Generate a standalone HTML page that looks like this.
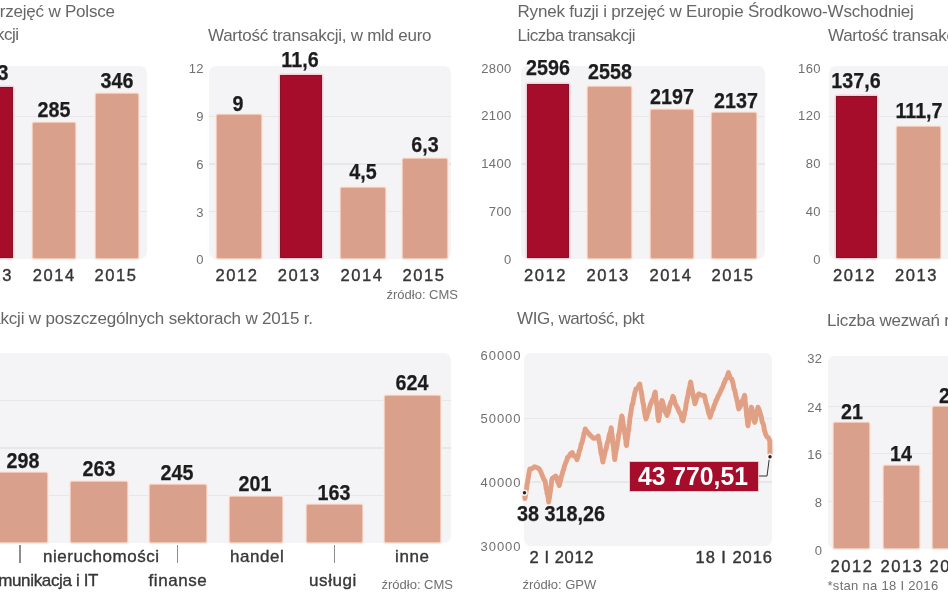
<!DOCTYPE html>
<html><head><meta charset="utf-8"><style>
html,body{margin:0;padding:0;background:#fff;}
body{width:948px;height:593px;position:relative;overflow:hidden;font-family:"Liberation Sans", sans-serif;}
.t{position:absolute;white-space:nowrap;}
.r{position:absolute;}
#w{position:absolute;left:0;top:0;width:948px;height:593px;filter:blur(0.35px);}
</style></head><body><div id="w">
<div class="r" style="left:-20.00px;top:66.00px;width:167.00px;height:192.50px;background:#f4f4f6;border-radius:7px;"></div>
<div class="r" style="left:-20.00px;top:115.50px;width:167.00px;height:1.50px;background:#e7e7e9;"></div>
<div class="r" style="left:-20.00px;top:163.00px;width:167.00px;height:1.50px;background:#e7e7e9;"></div>
<div class="r" style="left:-20.00px;top:210.50px;width:167.00px;height:1.50px;background:#e7e7e9;"></div>
<div class="r" style="left:-30.00px;top:87.00px;width:42.50px;height:171.00px;background:#a60d2b;box-shadow:inset 0 0 0 1px #8c1025,0 0 0 1.5px #f6d0d8;border-radius:1px;"></div>
<div class="r" style="left:33.00px;top:123.00px;width:41.50px;height:135.00px;background:#d9a18b;box-shadow:0 0 0 1px #f1c9b6,0 0 0 2px #fbeae3;border-radius:1px;"></div>
<div class="r" style="left:95.50px;top:93.50px;width:42.00px;height:164.50px;background:#d9a18b;box-shadow:0 0 0 1px #f1c9b6,0 0 0 2px #fbeae3;border-radius:1px;"></div>
<div class="t" style="top:2.94px;font-size:17px;line-height:17px;font-weight:400;color:#666;letter-spacing:-0.2px;right:833.20px;text-align:right;">Rynek fuzji i przejęć w Polsce</div>
<div class="t" style="top:26.43px;font-size:17px;line-height:17px;font-weight:400;color:#666;letter-spacing:-0.48px;right:929.48px;text-align:right;">Liczba transakcji</div>
<div class="t" style="top:61.51px;font-size:22px;line-height:22px;font-weight:700;color:#1c1c1c;-webkit-text-stroke:0.25px #1c1c1c;left:-308.00px;width:600px;text-align:center;transform:scaleX(0.895);transform-origin:center 50%;">363</div>
<div class="t" style="top:99.31px;font-size:22px;line-height:22px;font-weight:700;color:#1c1c1c;-webkit-text-stroke:0.25px #1c1c1c;left:-246.00px;width:600px;text-align:center;transform:scaleX(0.895);transform-origin:center 50%;">285</div>
<div class="t" style="top:70.01px;font-size:22px;line-height:22px;font-weight:700;color:#1c1c1c;-webkit-text-stroke:0.25px #1c1c1c;left:-183.00px;width:600px;text-align:center;transform:scaleX(0.895);transform-origin:center 50%;">346</div>
<div class="t" style="top:267.06px;font-size:16.5px;line-height:16.5px;font-weight:400;color:#363636;-webkit-text-stroke:0.4px #363636;letter-spacing:1.6px;left:-30.10px;">2013</div>
<div class="t" style="top:267.06px;font-size:16.5px;line-height:16.5px;font-weight:400;color:#363636;-webkit-text-stroke:0.4px #363636;letter-spacing:1.6px;left:32.70px;">2014</div>
<div class="t" style="top:267.06px;font-size:16.5px;line-height:16.5px;font-weight:400;color:#363636;-webkit-text-stroke:0.4px #363636;letter-spacing:1.6px;left:94.40px;">2015</div>
<div class="r" style="left:209.00px;top:66.00px;width:242.00px;height:192.50px;background:#f4f4f6;border-radius:7px;"></div>
<div class="r" style="left:209.00px;top:115.50px;width:242.00px;height:1.50px;background:#e7e7e9;"></div>
<div class="r" style="left:209.00px;top:163.00px;width:242.00px;height:1.50px;background:#e7e7e9;"></div>
<div class="r" style="left:209.00px;top:210.50px;width:242.00px;height:1.50px;background:#e7e7e9;"></div>
<div class="t" style="top:26.84px;font-size:17px;line-height:17px;font-weight:400;color:#666;letter-spacing:-0.25px;left:208.00px;">Wartość transakcji, w mld euro</div>
<div class="t" style="top:61.61px;font-size:13px;line-height:13px;font-weight:400;color:#707070;letter-spacing:0.4px;right:744.10px;text-align:right;">12</div>
<div class="t" style="top:109.61px;font-size:13px;line-height:13px;font-weight:400;color:#707070;letter-spacing:0.4px;right:744.10px;text-align:right;">9</div>
<div class="t" style="top:157.62px;font-size:13px;line-height:13px;font-weight:400;color:#707070;letter-spacing:0.4px;right:744.10px;text-align:right;">6</div>
<div class="t" style="top:205.62px;font-size:13px;line-height:13px;font-weight:400;color:#707070;letter-spacing:0.4px;right:744.10px;text-align:right;">3</div>
<div class="t" style="top:252.62px;font-size:13px;line-height:13px;font-weight:400;color:#707070;letter-spacing:0.4px;right:744.10px;text-align:right;">0</div>
<div class="r" style="left:216.50px;top:115.00px;width:44.50px;height:143.00px;background:#d9a18b;box-shadow:0 0 0 1px #f1c9b6,0 0 0 2px #fbeae3;border-radius:1px;"></div>
<div class="t" style="top:92.81px;font-size:22px;line-height:22px;font-weight:700;color:#1c1c1c;-webkit-text-stroke:0.25px #1c1c1c;left:-62.25px;width:600px;text-align:center;transform:scaleX(0.895);transform-origin:center 50%;">9</div>
<div class="t" style="top:267.06px;font-size:16.5px;line-height:16.5px;font-weight:400;color:#363636;-webkit-text-stroke:0.4px #363636;letter-spacing:1.6px;left:215.40px;">2012</div>
<div class="r" style="left:279.50px;top:74.50px;width:42.50px;height:183.50px;background:#a60d2b;box-shadow:inset 0 0 0 1px #8c1025,0 0 0 1.5px #f6d0d8;border-radius:1px;"></div>
<div class="t" style="top:49.31px;font-size:22px;line-height:22px;font-weight:700;color:#1c1c1c;-webkit-text-stroke:0.25px #1c1c1c;left:-0.25px;width:600px;text-align:center;transform:scaleX(0.895);transform-origin:center 50%;">11,6</div>
<div class="t" style="top:267.06px;font-size:16.5px;line-height:16.5px;font-weight:400;color:#363636;-webkit-text-stroke:0.4px #363636;letter-spacing:1.6px;left:277.70px;">2013</div>
<div class="r" style="left:341.00px;top:187.50px;width:43.50px;height:70.50px;background:#d9a18b;box-shadow:0 0 0 1px #f1c9b6,0 0 0 2px #fbeae3;border-radius:1px;"></div>
<div class="t" style="top:161.21px;font-size:22px;line-height:22px;font-weight:700;color:#1c1c1c;-webkit-text-stroke:0.25px #1c1c1c;left:62.75px;width:600px;text-align:center;transform:scaleX(0.895);transform-origin:center 50%;">4,5</div>
<div class="t" style="top:267.06px;font-size:16.5px;line-height:16.5px;font-weight:400;color:#363636;-webkit-text-stroke:0.4px #363636;letter-spacing:1.6px;left:340.40px;">2014</div>
<div class="r" style="left:402.50px;top:158.50px;width:44.50px;height:99.50px;background:#d9a18b;box-shadow:0 0 0 1px #f1c9b6,0 0 0 2px #fbeae3;border-radius:1px;"></div>
<div class="t" style="top:133.51px;font-size:22px;line-height:22px;font-weight:700;color:#1c1c1c;-webkit-text-stroke:0.25px #1c1c1c;left:124.75px;width:600px;text-align:center;transform:scaleX(0.895);transform-origin:center 50%;">6,3</div>
<div class="t" style="top:267.06px;font-size:16.5px;line-height:16.5px;font-weight:400;color:#363636;-webkit-text-stroke:0.4px #363636;letter-spacing:1.6px;left:402.40px;">2015</div>
<div class="t" style="top:288.31px;font-size:13px;line-height:13px;font-weight:400;color:#707070;right:490.00px;text-align:right;">źródło: CMS</div>
<div class="r" style="left:521.00px;top:66.00px;width:244.00px;height:192.50px;background:#f4f4f6;border-radius:7px;"></div>
<div class="r" style="left:521.00px;top:115.50px;width:244.00px;height:1.50px;background:#e7e7e9;"></div>
<div class="r" style="left:521.00px;top:163.00px;width:244.00px;height:1.50px;background:#e7e7e9;"></div>
<div class="r" style="left:521.00px;top:210.50px;width:244.00px;height:1.50px;background:#e7e7e9;"></div>
<div class="t" style="top:3.13px;font-size:17px;line-height:17px;font-weight:400;color:#666;letter-spacing:-0.18px;left:517.50px;">Rynek fuzji i przejęć w Europie Środkowo-Wschodniej</div>
<div class="t" style="top:26.84px;font-size:17px;line-height:17px;font-weight:400;color:#666;letter-spacing:-0.48px;left:517.50px;">Liczba transakcji</div>
<div class="t" style="top:61.61px;font-size:13px;line-height:13px;font-weight:400;color:#707070;letter-spacing:0.4px;right:436.30px;text-align:right;">2800</div>
<div class="t" style="top:109.11px;font-size:13px;line-height:13px;font-weight:400;color:#707070;letter-spacing:0.4px;right:436.30px;text-align:right;">2100</div>
<div class="t" style="top:157.12px;font-size:13px;line-height:13px;font-weight:400;color:#707070;letter-spacing:0.4px;right:436.30px;text-align:right;">1400</div>
<div class="t" style="top:204.62px;font-size:13px;line-height:13px;font-weight:400;color:#707070;letter-spacing:0.4px;right:436.30px;text-align:right;">700</div>
<div class="t" style="top:252.62px;font-size:13px;line-height:13px;font-weight:400;color:#707070;letter-spacing:0.4px;right:436.30px;text-align:right;">0</div>
<div class="r" style="left:527.00px;top:83.50px;width:41.50px;height:174.50px;background:#a60d2b;box-shadow:inset 0 0 0 1px #8c1025,0 0 0 1.5px #f6d0d8;border-radius:1px;"></div>
<div class="t" style="top:57.01px;font-size:22px;line-height:22px;font-weight:700;color:#1c1c1c;-webkit-text-stroke:0.25px #1c1c1c;left:247.75px;width:600px;text-align:center;transform:scaleX(0.895);transform-origin:center 50%;">2596</div>
<div class="t" style="top:267.06px;font-size:16.5px;line-height:16.5px;font-weight:400;color:#363636;-webkit-text-stroke:0.4px #363636;letter-spacing:1.6px;left:523.90px;">2012</div>
<div class="r" style="left:588.00px;top:86.50px;width:43.00px;height:171.50px;background:#d9a18b;box-shadow:0 0 0 1px #f1c9b6,0 0 0 2px #fbeae3;border-radius:1px;"></div>
<div class="t" style="top:60.71px;font-size:22px;line-height:22px;font-weight:700;color:#1c1c1c;-webkit-text-stroke:0.25px #1c1c1c;left:309.50px;width:600px;text-align:center;transform:scaleX(0.895);transform-origin:center 50%;">2558</div>
<div class="t" style="top:267.06px;font-size:16.5px;line-height:16.5px;font-weight:400;color:#363636;-webkit-text-stroke:0.4px #363636;letter-spacing:1.6px;left:586.60px;">2013</div>
<div class="r" style="left:650.50px;top:110.00px;width:42.50px;height:148.00px;background:#d9a18b;box-shadow:0 0 0 1px #f1c9b6,0 0 0 2px #fbeae3;border-radius:1px;"></div>
<div class="t" style="top:86.01px;font-size:22px;line-height:22px;font-weight:700;color:#1c1c1c;-webkit-text-stroke:0.25px #1c1c1c;left:371.75px;width:600px;text-align:center;transform:scaleX(0.895);transform-origin:center 50%;">2197</div>
<div class="t" style="top:267.06px;font-size:16.5px;line-height:16.5px;font-weight:400;color:#363636;-webkit-text-stroke:0.4px #363636;letter-spacing:1.6px;left:649.40px;">2014</div>
<div class="r" style="left:712.00px;top:112.50px;width:44.00px;height:145.50px;background:#d9a18b;box-shadow:0 0 0 1px #f1c9b6,0 0 0 2px #fbeae3;border-radius:1px;"></div>
<div class="t" style="top:89.81px;font-size:22px;line-height:22px;font-weight:700;color:#1c1c1c;-webkit-text-stroke:0.25px #1c1c1c;left:435.50px;width:600px;text-align:center;transform:scaleX(0.895);transform-origin:center 50%;">2137</div>
<div class="t" style="top:267.06px;font-size:16.5px;line-height:16.5px;font-weight:400;color:#363636;-webkit-text-stroke:0.4px #363636;letter-spacing:1.6px;left:711.40px;">2015</div>
<div class="r" style="left:829.00px;top:66.00px;width:139.00px;height:192.50px;background:#f4f4f6;border-radius:7px;"></div>
<div class="r" style="left:829.00px;top:115.50px;width:139.00px;height:1.50px;background:#e7e7e9;"></div>
<div class="r" style="left:829.00px;top:163.00px;width:139.00px;height:1.50px;background:#e7e7e9;"></div>
<div class="r" style="left:829.00px;top:210.50px;width:139.00px;height:1.50px;background:#e7e7e9;"></div>
<div class="t" style="top:26.84px;font-size:17px;line-height:17px;font-weight:400;color:#666;letter-spacing:-0.25px;left:828.00px;">Wartość transakcji, w mld euro</div>
<div class="t" style="top:61.61px;font-size:13px;line-height:13px;font-weight:400;color:#707070;letter-spacing:0.4px;right:127.10px;text-align:right;">160</div>
<div class="t" style="top:109.11px;font-size:13px;line-height:13px;font-weight:400;color:#707070;letter-spacing:0.4px;right:127.10px;text-align:right;">120</div>
<div class="t" style="top:157.12px;font-size:13px;line-height:13px;font-weight:400;color:#707070;letter-spacing:0.4px;right:127.10px;text-align:right;">80</div>
<div class="t" style="top:204.62px;font-size:13px;line-height:13px;font-weight:400;color:#707070;letter-spacing:0.4px;right:127.10px;text-align:right;">40</div>
<div class="t" style="top:252.62px;font-size:13px;line-height:13px;font-weight:400;color:#707070;letter-spacing:0.4px;right:127.10px;text-align:right;">0</div>
<div class="r" style="left:835.50px;top:96.00px;width:41.00px;height:162.00px;background:#a60d2b;box-shadow:inset 0 0 0 1px #8c1025,0 0 0 1.5px #f6d0d8;border-radius:1px;"></div>
<div class="t" style="top:70.21px;font-size:22px;line-height:22px;font-weight:700;color:#1c1c1c;-webkit-text-stroke:0.25px #1c1c1c;left:556.00px;width:600px;text-align:center;transform:scaleX(0.895);transform-origin:center 50%;">137,6</div>
<div class="t" style="top:267.06px;font-size:16.5px;line-height:16.5px;font-weight:400;color:#363636;-webkit-text-stroke:0.4px #363636;letter-spacing:1.6px;left:832.90px;">2012</div>
<div class="r" style="left:897.00px;top:127.00px;width:43.00px;height:131.00px;background:#d9a18b;box-shadow:0 0 0 1px #f1c9b6,0 0 0 2px #fbeae3;border-radius:1px;"></div>
<div class="t" style="top:100.01px;font-size:22px;line-height:22px;font-weight:700;color:#1c1c1c;-webkit-text-stroke:0.25px #1c1c1c;left:618.50px;width:600px;text-align:center;transform:scaleX(0.895);transform-origin:center 50%;">111,7</div>
<div class="t" style="top:267.06px;font-size:16.5px;line-height:16.5px;font-weight:400;color:#363636;-webkit-text-stroke:0.4px #363636;letter-spacing:1.6px;left:894.90px;">2013</div>
<div class="r" style="left:959.00px;top:170.00px;width:43.00px;height:88.00px;background:#d9a18b;box-shadow:0 0 0 1px #f1c9b6,0 0 0 2px #fbeae3;border-radius:1px;"></div>
<div class="t" style="top:267.06px;font-size:16.5px;line-height:16.5px;font-weight:400;color:#363636;-webkit-text-stroke:0.4px #363636;letter-spacing:1.6px;left:957.20px;">2014</div>
<div class="r" style="left:-20.00px;top:352.50px;width:471.00px;height:190.00px;background:#f4f4f6;border-radius:7px;"></div>
<div class="r" style="left:-20.00px;top:399.50px;width:471.00px;height:1.50px;background:#e7e7e9;"></div>
<div class="r" style="left:-20.00px;top:447.00px;width:471.00px;height:1.50px;background:#e7e7e9;"></div>
<div class="r" style="left:-20.00px;top:494.50px;width:471.00px;height:1.50px;background:#e7e7e9;"></div>
<div class="t" style="top:309.63px;font-size:17px;line-height:17px;font-weight:400;color:#666;letter-spacing:-0.17px;right:635.17px;text-align:right;">Liczba transakcji w poszczególnych sektorach w 2015 r.</div>
<div class="r" style="left:-8.00px;top:472.50px;width:55.00px;height:69.00px;background:#d9a18b;box-shadow:0 0 0 1px #f1c9b6,0 0 0 2px #fbeae3;border-radius:1px;"></div>
<div class="t" style="top:450.01px;font-size:22px;line-height:22px;font-weight:700;color:#1c1c1c;-webkit-text-stroke:0.25px #1c1c1c;left:-277.00px;width:600px;text-align:center;transform:scaleX(0.895);transform-origin:center 50%;">298</div>
<div class="t" style="top:571.93px;font-size:17px;line-height:17px;font-weight:400;color:#363636;-webkit-text-stroke:0.35px #363636;letter-spacing:-0.35px;right:849.85px;text-align:right;">telekomunikacja i IT</div>
<div class="r" style="left:19.30px;top:544.50px;width:1.40px;height:18.50px;background:#8d8d8d;"></div>
<div class="r" style="left:71.00px;top:481.50px;width:55.50px;height:60.00px;background:#d9a18b;box-shadow:0 0 0 1px #f1c9b6,0 0 0 2px #fbeae3;border-radius:1px;"></div>
<div class="t" style="top:458.31px;font-size:22px;line-height:22px;font-weight:700;color:#1c1c1c;-webkit-text-stroke:0.25px #1c1c1c;left:-201.25px;width:600px;text-align:center;transform:scaleX(0.895);transform-origin:center 50%;">263</div>
<div class="t" style="top:548.43px;font-size:17px;line-height:17px;font-weight:400;color:#363636;-webkit-text-stroke:0.35px #363636;letter-spacing:0.55px;left:-198.72px;width:600px;text-align:center;">nieruchomości</div>
<div class="r" style="left:150.00px;top:485.00px;width:55.50px;height:56.50px;background:#d9a18b;box-shadow:0 0 0 1px #f1c9b6,0 0 0 2px #fbeae3;border-radius:1px;"></div>
<div class="t" style="top:462.01px;font-size:22px;line-height:22px;font-weight:700;color:#1c1c1c;-webkit-text-stroke:0.25px #1c1c1c;left:-123.25px;width:600px;text-align:center;transform:scaleX(0.895);transform-origin:center 50%;">245</div>
<div class="t" style="top:571.93px;font-size:17px;line-height:17px;font-weight:400;color:#363636;-webkit-text-stroke:0.35px #363636;letter-spacing:0.55px;left:-122.12px;width:600px;text-align:center;">finanse</div>
<div class="r" style="left:177.05px;top:544.50px;width:1.40px;height:18.50px;background:#8d8d8d;"></div>
<div class="r" style="left:229.50px;top:497.00px;width:52.50px;height:44.50px;background:#d9a18b;box-shadow:0 0 0 1px #f1c9b6,0 0 0 2px #fbeae3;border-radius:1px;"></div>
<div class="t" style="top:472.81px;font-size:22px;line-height:22px;font-weight:700;color:#1c1c1c;-webkit-text-stroke:0.25px #1c1c1c;left:-45.25px;width:600px;text-align:center;transform:scaleX(0.895);transform-origin:center 50%;">201</div>
<div class="t" style="top:548.43px;font-size:17px;line-height:17px;font-weight:400;color:#363636;-webkit-text-stroke:0.35px #363636;letter-spacing:0.55px;left:-42.73px;width:600px;text-align:center;">handel</div>
<div class="r" style="left:306.50px;top:505.00px;width:55.50px;height:36.50px;background:#d9a18b;box-shadow:0 0 0 1px #f1c9b6,0 0 0 2px #fbeae3;border-radius:1px;"></div>
<div class="t" style="top:482.01px;font-size:22px;line-height:22px;font-weight:700;color:#1c1c1c;-webkit-text-stroke:0.25px #1c1c1c;left:34.25px;width:600px;text-align:center;transform:scaleX(0.895);transform-origin:center 50%;">163</div>
<div class="t" style="top:571.93px;font-size:17px;line-height:17px;font-weight:400;color:#363636;-webkit-text-stroke:0.35px #363636;letter-spacing:0.55px;left:32.97px;width:600px;text-align:center;">usługi</div>
<div class="r" style="left:333.55px;top:544.50px;width:1.40px;height:18.50px;background:#8d8d8d;"></div>
<div class="r" style="left:384.50px;top:396.00px;width:55.50px;height:145.50px;background:#d9a18b;box-shadow:0 0 0 1px #f1c9b6,0 0 0 2px #fbeae3;border-radius:1px;"></div>
<div class="t" style="top:372.31px;font-size:22px;line-height:22px;font-weight:700;color:#1c1c1c;-webkit-text-stroke:0.25px #1c1c1c;left:112.25px;width:600px;text-align:center;transform:scaleX(0.895);transform-origin:center 50%;">624</div>
<div class="t" style="top:548.43px;font-size:17px;line-height:17px;font-weight:400;color:#363636;-webkit-text-stroke:0.35px #363636;letter-spacing:0.55px;left:112.28px;width:600px;text-align:center;">inne</div>
<div class="t" style="top:578.31px;font-size:13px;line-height:13px;font-weight:400;color:#707070;right:495.00px;text-align:right;">źródło: CMS</div>
<div class="r" style="left:523.50px;top:353.00px;width:248.50px;height:192.50px;background:#f4f4f6;border-radius:7px;"></div>
<div class="r" style="left:523.50px;top:417.50px;width:248.50px;height:1.50px;background:#e7e7e9;"></div>
<div class="r" style="left:523.50px;top:481.00px;width:248.50px;height:1.50px;background:#e7e7e9;"></div>
<div class="t" style="top:309.63px;font-size:17px;line-height:17px;font-weight:400;color:#666;letter-spacing:-0.41px;left:517.00px;">WIG, wartość, pkt</div>
<div class="t" style="top:348.81px;font-size:13px;line-height:13px;font-weight:400;color:#707070;letter-spacing:0.95px;right:426.55px;text-align:right;">60000</div>
<div class="t" style="top:412.12px;font-size:13px;line-height:13px;font-weight:400;color:#707070;letter-spacing:0.95px;right:426.55px;text-align:right;">50000</div>
<div class="t" style="top:475.62px;font-size:13px;line-height:13px;font-weight:400;color:#707070;letter-spacing:0.95px;right:426.55px;text-align:right;">40000</div>
<div class="t" style="top:539.62px;font-size:13px;line-height:13px;font-weight:400;color:#707070;letter-spacing:0.95px;right:426.55px;text-align:right;">30000</div>
<svg class="r" style="left:0;top:0" width="948" height="593" viewBox="0 0 948 593">
<path d="M524.6,492.5 L524.8,495.0 L525.0,498.5 L525.4,495.3 L525.7,494.4 L526.1,490.6 L526.5,489.5 L526.8,486.8 L527.2,483.7 L527.6,482.6 L528.0,479.1 L528.3,477.9 L528.7,474.7 L529.1,472.5 L529.4,471.1 L529.8,469.0 L532.1,468.7 L534.5,466.7 L538.0,468.0 L539.2,469.0 L540.4,471.1 L541.6,473.8 L542.7,476.5 L543.9,479.6 L545.0,480.8 L545.4,483.4 L545.8,485.2 L546.2,489.1 L546.6,489.0 L547.1,493.5 L547.5,494.4 L547.9,496.4 L548.3,498.7 L548.7,502.0 L549.1,499.2 L549.4,498.1 L549.8,494.1 L550.1,492.8 L550.5,490.6 L550.8,487.6 L551.2,485.7 L551.5,482.1 L551.9,479.7 L552.2,478.5 L555.7,476.0 L556.6,477.6 L557.5,481.3 L558.4,483.0 L559.3,485.6 L559.9,482.8 L560.5,481.1 L561.0,478.4 L561.6,475.6 L562.2,474.5 L562.8,471.4 L563.6,469.6 L564.4,466.0 L565.1,464.5 L565.9,462.1 L566.7,460.6 L567.5,457.3 L569.1,456.3 L570.6,453.5 L572.2,452.5 L573.8,456.1 L575.4,456.2 L577.0,459.6 L577.7,457.0 L578.4,455.5 L579.1,451.6 L579.8,450.1 L580.5,447.8 L581.1,444.3 L581.7,443.5 L582.3,441.4 L582.9,438.6 L583.4,437.0 L584.0,433.2 L584.6,431.9 L585.2,429.0 L587.0,431.6 L588.8,433.7 L590.4,435.5 L591.9,436.7 L593.5,438.4 L595.9,438.1 L598.2,436.0 L598.6,439.3 L599.0,440.3 L599.4,442.9 L599.8,443.5 L600.2,447.4 L600.5,449.4 L600.9,452.4 L601.3,454.2 L601.7,454.9 L602.1,457.4 L602.5,460.3 L602.9,462.0 L603.5,458.5 L604.0,457.3 L604.6,454.3 L605.1,451.9 L605.7,449.5 L606.2,449.0 L606.8,445.1 L607.3,443.1 L607.9,441.2 L608.4,440.2 L609.0,435.8 L609.5,434.5 L610.1,432.5 L610.6,431.1 L611.2,427.8 L611.5,430.9 L611.7,433.3 L612.0,434.0 L612.2,436.7 L612.5,438.8 L612.7,442.4 L613.0,444.9 L613.2,445.1 L613.5,447.4 L613.7,449.8 L614.0,452.1 L614.2,455.0 L614.5,457.6 L614.7,459.6 L615.1,456.8 L615.4,454.0 L615.8,452.8 L616.1,450.5 L616.5,448.9 L616.8,447.7 L617.2,444.8 L617.5,442.2 L617.9,440.3 L618.2,438.3 L618.6,434.5 L619.0,434.5 L619.3,432.0 L619.7,430.1 L620.0,427.7 L620.4,424.4 L620.7,422.3 L621.1,419.3 L621.4,418.5 L621.8,416.0 L622.2,417.1 L622.5,419.4 L622.9,422.1 L623.2,424.2 L623.6,426.9 L624.0,428.5 L624.3,430.6 L624.7,433.2 L625.1,435.4 L625.4,438.3 L625.8,439.7 L626.1,444.2 L626.5,445.5 L626.8,443.6 L627.1,440.1 L627.4,438.2 L627.7,436.2 L628.0,434.1 L628.3,431.2 L628.6,430.9 L628.9,429.0 L629.1,425.4 L629.4,423.3 L629.7,420.0 L630.0,417.8 L630.3,416.2 L630.6,413.8 L630.9,413.1 L631.2,410.0 L631.7,406.8 L632.2,404.1 L632.8,404.1 L633.3,400.7 L633.8,397.4 L634.3,396.0 L634.9,392.4 L635.4,391.3 L635.9,388.9 L637.8,387.7 L639.8,384.0 L640.2,387.1 L640.6,388.9 L640.9,389.9 L641.3,392.4 L641.7,394.1 L642.1,397.8 L642.5,399.4 L642.8,402.2 L643.2,403.2 L643.6,405.2 L644.0,408.9 L644.4,411.5 L644.8,413.4 L645.1,415.4 L645.5,417.6 L645.9,419.0 L646.7,417.4 L647.5,413.8 L648.2,412.3 L649.0,409.6 L649.8,406.5 L650.5,404.3 L651.3,402.7 L652.1,400.4 L652.9,399.3 L653.7,397.7 L654.4,394.1 L655.2,392.0 L655.5,395.3 L655.7,397.7 L656.0,399.8 L656.2,400.5 L656.5,402.3 L656.7,404.5 L657.0,406.7 L657.2,408.9 L657.5,412.2 L657.7,415.1 L658.0,417.2 L658.2,418.4 L658.5,420.7 L658.9,418.9 L659.3,417.0 L659.6,412.9 L660.0,412.1 L660.4,410.5 L660.8,408.0 L661.1,405.6 L661.5,402.7 L661.9,400.5 L662.6,401.8 L663.4,405.6 L664.1,406.5 L664.8,409.9 L665.5,412.5 L666.3,413.2 L667.0,415.6 L667.7,413.2 L668.3,412.5 L669.0,409.8 L669.6,406.2 L670.3,403.9 L670.9,401.8 L671.6,401.6 L672.2,399.2 L672.9,396.3 L673.7,397.6 L674.6,401.5 L675.4,404.1 L676.3,405.4 L677.1,407.2 L678.1,409.1 L679.1,411.8 L680.0,413.0 L681.0,414.9 L682.0,419.7 L683.0,420.7 L683.4,418.8 L683.9,416.2 L684.3,415.0 L684.8,411.4 L685.2,410.3 L685.7,407.9 L686.1,404.0 L686.6,401.8 L687.0,399.6 L687.5,397.2 L687.9,395.8 L688.4,392.7 L688.8,390.8 L689.3,387.8 L689.7,387.5 L690.2,383.8 L690.6,381.9 L691.0,384.0 L691.4,386.5 L691.9,389.5 L692.3,390.5 L692.7,393.9 L693.1,395.0 L693.5,397.3 L694.0,399.5 L694.4,400.4 L694.8,403.8 L695.8,401.1 L696.9,397.9 L698.0,394.9 L699.0,393.7 L701.5,395.3 L704.1,395.4 L704.7,396.7 L705.3,399.7 L705.9,402.6 L706.5,404.3 L707.0,405.9 L707.6,408.6 L708.2,410.9 L708.8,413.7 L709.4,414.1 L710.0,417.3 L710.7,415.4 L711.5,412.4 L712.2,410.4 L713.0,409.6 L713.7,406.8 L714.4,404.9 L715.2,403.3 L715.9,400.5 L716.9,399.6 L717.9,396.3 L719.0,394.7 L720.0,392.4 L721.0,390.4 L721.9,388.2 L722.9,386.5 L723.8,383.6 L724.8,381.6 L725.7,379.2 L726.6,378.2 L727.6,375.3 L728.5,372.6 L729.5,375.9 L730.6,378.4 L731.7,378.9 L732.7,381.9 L733.2,384.2 L733.7,387.4 L734.2,389.3 L734.6,389.6 L735.1,391.8 L735.6,394.8 L736.1,397.1 L736.6,398.3 L737.1,401.1 L737.7,403.1 L738.2,407.0 L738.7,408.9 L739.7,407.4 L740.7,405.4 L741.7,401.3 L742.6,400.5 L743.6,398.1 L744.6,395.4 L744.9,396.8 L745.1,401.1 L745.4,403.6 L745.6,404.0 L745.9,408.3 L746.1,409.2 L746.4,411.7 L746.6,415.4 L746.9,417.3 L747.1,417.9 L747.4,420.9 L747.6,423.5 L747.9,425.8 L748.3,423.1 L748.8,420.4 L749.2,418.4 L749.6,417.1 L750.0,412.9 L750.4,412.0 L750.9,409.4 L751.3,407.2 L751.8,408.1 L752.3,411.1 L752.8,414.0 L753.2,415.9 L753.7,416.9 L754.2,421.5 L754.7,422.4 L755.2,421.0 L755.6,419.3 L756.1,414.9 L756.6,413.1 L757.1,410.3 L757.5,410.1 L758.0,407.2 L758.9,409.1 L759.7,411.3 L760.5,414.6 L761.4,417.3 L762.0,420.8 L762.6,423.0 L763.2,423.9 L763.8,426.0 L764.4,430.5 L765.0,432.0 L765.6,434.2 L767.0,437.0 L768.4,437.7 L769.8,441.0 L769.8,442.3 L769.9,446.5 L769.9,448.3 L769.9,449.9 L770.0,454.6 L770.0,456.0" fill="none" stroke="#fcf1ec" stroke-width="7.5" stroke-linejoin="round" stroke-linecap="round"/>
<path d="M524.6,492.5 L524.8,495.0 L525.0,498.5 L525.4,495.3 L525.7,494.4 L526.1,490.6 L526.5,489.5 L526.8,486.8 L527.2,483.7 L527.6,482.6 L528.0,479.1 L528.3,477.9 L528.7,474.7 L529.1,472.5 L529.4,471.1 L529.8,469.0 L532.1,468.7 L534.5,466.7 L538.0,468.0 L539.2,469.0 L540.4,471.1 L541.6,473.8 L542.7,476.5 L543.9,479.6 L545.0,480.8 L545.4,483.4 L545.8,485.2 L546.2,489.1 L546.6,489.0 L547.1,493.5 L547.5,494.4 L547.9,496.4 L548.3,498.7 L548.7,502.0 L549.1,499.2 L549.4,498.1 L549.8,494.1 L550.1,492.8 L550.5,490.6 L550.8,487.6 L551.2,485.7 L551.5,482.1 L551.9,479.7 L552.2,478.5 L555.7,476.0 L556.6,477.6 L557.5,481.3 L558.4,483.0 L559.3,485.6 L559.9,482.8 L560.5,481.1 L561.0,478.4 L561.6,475.6 L562.2,474.5 L562.8,471.4 L563.6,469.6 L564.4,466.0 L565.1,464.5 L565.9,462.1 L566.7,460.6 L567.5,457.3 L569.1,456.3 L570.6,453.5 L572.2,452.5 L573.8,456.1 L575.4,456.2 L577.0,459.6 L577.7,457.0 L578.4,455.5 L579.1,451.6 L579.8,450.1 L580.5,447.8 L581.1,444.3 L581.7,443.5 L582.3,441.4 L582.9,438.6 L583.4,437.0 L584.0,433.2 L584.6,431.9 L585.2,429.0 L587.0,431.6 L588.8,433.7 L590.4,435.5 L591.9,436.7 L593.5,438.4 L595.9,438.1 L598.2,436.0 L598.6,439.3 L599.0,440.3 L599.4,442.9 L599.8,443.5 L600.2,447.4 L600.5,449.4 L600.9,452.4 L601.3,454.2 L601.7,454.9 L602.1,457.4 L602.5,460.3 L602.9,462.0 L603.5,458.5 L604.0,457.3 L604.6,454.3 L605.1,451.9 L605.7,449.5 L606.2,449.0 L606.8,445.1 L607.3,443.1 L607.9,441.2 L608.4,440.2 L609.0,435.8 L609.5,434.5 L610.1,432.5 L610.6,431.1 L611.2,427.8 L611.5,430.9 L611.7,433.3 L612.0,434.0 L612.2,436.7 L612.5,438.8 L612.7,442.4 L613.0,444.9 L613.2,445.1 L613.5,447.4 L613.7,449.8 L614.0,452.1 L614.2,455.0 L614.5,457.6 L614.7,459.6 L615.1,456.8 L615.4,454.0 L615.8,452.8 L616.1,450.5 L616.5,448.9 L616.8,447.7 L617.2,444.8 L617.5,442.2 L617.9,440.3 L618.2,438.3 L618.6,434.5 L619.0,434.5 L619.3,432.0 L619.7,430.1 L620.0,427.7 L620.4,424.4 L620.7,422.3 L621.1,419.3 L621.4,418.5 L621.8,416.0 L622.2,417.1 L622.5,419.4 L622.9,422.1 L623.2,424.2 L623.6,426.9 L624.0,428.5 L624.3,430.6 L624.7,433.2 L625.1,435.4 L625.4,438.3 L625.8,439.7 L626.1,444.2 L626.5,445.5 L626.8,443.6 L627.1,440.1 L627.4,438.2 L627.7,436.2 L628.0,434.1 L628.3,431.2 L628.6,430.9 L628.9,429.0 L629.1,425.4 L629.4,423.3 L629.7,420.0 L630.0,417.8 L630.3,416.2 L630.6,413.8 L630.9,413.1 L631.2,410.0 L631.7,406.8 L632.2,404.1 L632.8,404.1 L633.3,400.7 L633.8,397.4 L634.3,396.0 L634.9,392.4 L635.4,391.3 L635.9,388.9 L637.8,387.7 L639.8,384.0 L640.2,387.1 L640.6,388.9 L640.9,389.9 L641.3,392.4 L641.7,394.1 L642.1,397.8 L642.5,399.4 L642.8,402.2 L643.2,403.2 L643.6,405.2 L644.0,408.9 L644.4,411.5 L644.8,413.4 L645.1,415.4 L645.5,417.6 L645.9,419.0 L646.7,417.4 L647.5,413.8 L648.2,412.3 L649.0,409.6 L649.8,406.5 L650.5,404.3 L651.3,402.7 L652.1,400.4 L652.9,399.3 L653.7,397.7 L654.4,394.1 L655.2,392.0 L655.5,395.3 L655.7,397.7 L656.0,399.8 L656.2,400.5 L656.5,402.3 L656.7,404.5 L657.0,406.7 L657.2,408.9 L657.5,412.2 L657.7,415.1 L658.0,417.2 L658.2,418.4 L658.5,420.7 L658.9,418.9 L659.3,417.0 L659.6,412.9 L660.0,412.1 L660.4,410.5 L660.8,408.0 L661.1,405.6 L661.5,402.7 L661.9,400.5 L662.6,401.8 L663.4,405.6 L664.1,406.5 L664.8,409.9 L665.5,412.5 L666.3,413.2 L667.0,415.6 L667.7,413.2 L668.3,412.5 L669.0,409.8 L669.6,406.2 L670.3,403.9 L670.9,401.8 L671.6,401.6 L672.2,399.2 L672.9,396.3 L673.7,397.6 L674.6,401.5 L675.4,404.1 L676.3,405.4 L677.1,407.2 L678.1,409.1 L679.1,411.8 L680.0,413.0 L681.0,414.9 L682.0,419.7 L683.0,420.7 L683.4,418.8 L683.9,416.2 L684.3,415.0 L684.8,411.4 L685.2,410.3 L685.7,407.9 L686.1,404.0 L686.6,401.8 L687.0,399.6 L687.5,397.2 L687.9,395.8 L688.4,392.7 L688.8,390.8 L689.3,387.8 L689.7,387.5 L690.2,383.8 L690.6,381.9 L691.0,384.0 L691.4,386.5 L691.9,389.5 L692.3,390.5 L692.7,393.9 L693.1,395.0 L693.5,397.3 L694.0,399.5 L694.4,400.4 L694.8,403.8 L695.8,401.1 L696.9,397.9 L698.0,394.9 L699.0,393.7 L701.5,395.3 L704.1,395.4 L704.7,396.7 L705.3,399.7 L705.9,402.6 L706.5,404.3 L707.0,405.9 L707.6,408.6 L708.2,410.9 L708.8,413.7 L709.4,414.1 L710.0,417.3 L710.7,415.4 L711.5,412.4 L712.2,410.4 L713.0,409.6 L713.7,406.8 L714.4,404.9 L715.2,403.3 L715.9,400.5 L716.9,399.6 L717.9,396.3 L719.0,394.7 L720.0,392.4 L721.0,390.4 L721.9,388.2 L722.9,386.5 L723.8,383.6 L724.8,381.6 L725.7,379.2 L726.6,378.2 L727.6,375.3 L728.5,372.6 L729.5,375.9 L730.6,378.4 L731.7,378.9 L732.7,381.9 L733.2,384.2 L733.7,387.4 L734.2,389.3 L734.6,389.6 L735.1,391.8 L735.6,394.8 L736.1,397.1 L736.6,398.3 L737.1,401.1 L737.7,403.1 L738.2,407.0 L738.7,408.9 L739.7,407.4 L740.7,405.4 L741.7,401.3 L742.6,400.5 L743.6,398.1 L744.6,395.4 L744.9,396.8 L745.1,401.1 L745.4,403.6 L745.6,404.0 L745.9,408.3 L746.1,409.2 L746.4,411.7 L746.6,415.4 L746.9,417.3 L747.1,417.9 L747.4,420.9 L747.6,423.5 L747.9,425.8 L748.3,423.1 L748.8,420.4 L749.2,418.4 L749.6,417.1 L750.0,412.9 L750.4,412.0 L750.9,409.4 L751.3,407.2 L751.8,408.1 L752.3,411.1 L752.8,414.0 L753.2,415.9 L753.7,416.9 L754.2,421.5 L754.7,422.4 L755.2,421.0 L755.6,419.3 L756.1,414.9 L756.6,413.1 L757.1,410.3 L757.5,410.1 L758.0,407.2 L758.9,409.1 L759.7,411.3 L760.5,414.6 L761.4,417.3 L762.0,420.8 L762.6,423.0 L763.2,423.9 L763.8,426.0 L764.4,430.5 L765.0,432.0 L765.6,434.2 L767.0,437.0 L768.4,437.7 L769.8,441.0 L769.8,442.3 L769.9,446.5 L769.9,448.3 L769.9,449.9 L770.0,454.6 L770.0,456.0" fill="none" stroke="#dfa085" stroke-width="4.9" stroke-linejoin="round" stroke-linecap="round"/>
<polyline points="757.5,476 767,476 769.5,457" fill="none" stroke="#333" stroke-width="1"/>
<circle cx="524.5" cy="492.7" r="3.2" fill="#fff" opacity="0.85"/>
<circle cx="524.5" cy="492.7" r="1.7" fill="#222"/>
<circle cx="770" cy="456.8" r="3.2" fill="#fff" opacity="0.85"/>
<circle cx="770" cy="456.8" r="1.7" fill="#222"/>
</svg>
<div class="r" style="left:629.50px;top:462.00px;width:128.00px;height:29.00px;background:#a60d2b;box-shadow:0 0 0 1px #f0c6c6;"></div>
<div class="t" style="top:463.75px;font-size:25.5px;line-height:25.5px;font-weight:700;color:#fff;left:393.00px;width:600px;text-align:center;transform:scaleX(0.97);transform-origin:center 50%;">43 770,51</div>
<div class="t" style="top:503.41px;font-size:22px;line-height:22px;font-weight:700;color:#1c1c1c;-webkit-text-stroke:0.25px #1c1c1c;left:517.00px;transform:scaleX(0.9);transform-origin:left 50%;">38 318,26</div>
<div class="t" style="top:549.06px;font-size:16.5px;line-height:16.5px;font-weight:400;color:#363636;-webkit-text-stroke:0.4px #363636;letter-spacing:0.6px;left:529.50px;">2 I 2012</div>
<div class="t" style="top:549.26px;font-size:16.5px;line-height:16.5px;font-weight:400;color:#363636;-webkit-text-stroke:0.4px #363636;letter-spacing:0.95px;right:175.05px;text-align:right;">18 I 2016</div>
<div class="t" style="top:578.31px;font-size:13px;line-height:13px;font-weight:400;color:#707070;left:522.50px;">źródło: GPW</div>
<div class="r" style="left:827.50px;top:356.00px;width:140.50px;height:192.50px;background:#f4f4f6;border-radius:7px;"></div>
<div class="r" style="left:827.50px;top:405.50px;width:140.50px;height:1.50px;background:#e7e7e9;"></div>
<div class="r" style="left:827.50px;top:452.50px;width:140.50px;height:1.50px;background:#e7e7e9;"></div>
<div class="r" style="left:827.50px;top:500.50px;width:140.50px;height:1.50px;background:#e7e7e9;"></div>
<div class="t" style="top:311.63px;font-size:17px;line-height:17px;font-weight:400;color:#666;letter-spacing:-0.2px;left:827.00px;">Liczba wezwań na GPW*</div>
<div class="t" style="top:352.12px;font-size:13px;line-height:13px;font-weight:400;color:#707070;letter-spacing:0.4px;right:125.60px;text-align:right;">32</div>
<div class="t" style="top:401.12px;font-size:13px;line-height:13px;font-weight:400;color:#707070;letter-spacing:0.4px;right:125.60px;text-align:right;">24</div>
<div class="t" style="top:447.62px;font-size:13px;line-height:13px;font-weight:400;color:#707070;letter-spacing:0.4px;right:125.60px;text-align:right;">16</div>
<div class="t" style="top:495.62px;font-size:13px;line-height:13px;font-weight:400;color:#707070;letter-spacing:0.4px;right:125.60px;text-align:right;">8</div>
<div class="t" style="top:543.62px;font-size:13px;line-height:13px;font-weight:400;color:#707070;letter-spacing:0.4px;right:125.60px;text-align:right;">0</div>
<div class="r" style="left:833.50px;top:422.50px;width:35.50px;height:125.70px;background:#d9a18b;box-shadow:0 0 0 1px #f1c9b6,0 0 0 2px #fbeae3;border-radius:1px;"></div>
<div class="t" style="top:401.31px;font-size:22px;line-height:22px;font-weight:700;color:#1c1c1c;-webkit-text-stroke:0.25px #1c1c1c;left:552.45px;width:600px;text-align:center;transform:scaleX(0.895);transform-origin:center 50%;">21</div>
<div class="t" style="top:557.86px;font-size:16.5px;line-height:16.5px;font-weight:400;color:#363636;-webkit-text-stroke:0.4px #363636;letter-spacing:1.6px;left:552.05px;width:600px;text-align:center;">2012</div>
<div class="r" style="left:883.50px;top:466.30px;width:35.50px;height:81.90px;background:#d9a18b;box-shadow:0 0 0 1px #f1c9b6,0 0 0 2px #fbeae3;border-radius:1px;"></div>
<div class="t" style="top:443.31px;font-size:22px;line-height:22px;font-weight:700;color:#1c1c1c;-webkit-text-stroke:0.25px #1c1c1c;left:601.25px;width:600px;text-align:center;transform:scaleX(0.895);transform-origin:center 50%;">14</div>
<div class="t" style="top:557.86px;font-size:16.5px;line-height:16.5px;font-weight:400;color:#363636;-webkit-text-stroke:0.4px #363636;letter-spacing:1.6px;left:602.05px;width:600px;text-align:center;">2013</div>
<div class="r" style="left:932.50px;top:406.50px;width:35.50px;height:141.70px;background:#d9a18b;box-shadow:0 0 0 1px #f1c9b6,0 0 0 2px #fbeae3;border-radius:1px;"></div>
<div class="t" style="top:385.01px;font-size:22px;line-height:22px;font-weight:700;color:#1c1c1c;-webkit-text-stroke:0.25px #1c1c1c;left:650.25px;width:600px;text-align:center;transform:scaleX(0.895);transform-origin:center 50%;">24</div>
<div class="t" style="top:557.86px;font-size:16.5px;line-height:16.5px;font-weight:400;color:#363636;-webkit-text-stroke:0.4px #363636;letter-spacing:1.6px;left:651.05px;width:600px;text-align:center;">2014</div>
<div class="t" style="top:578.62px;font-size:13px;line-height:13px;font-weight:400;color:#707070;letter-spacing:0.3px;left:827.50px;">*stan na 18 I 2016</div>
</div></body></html>
